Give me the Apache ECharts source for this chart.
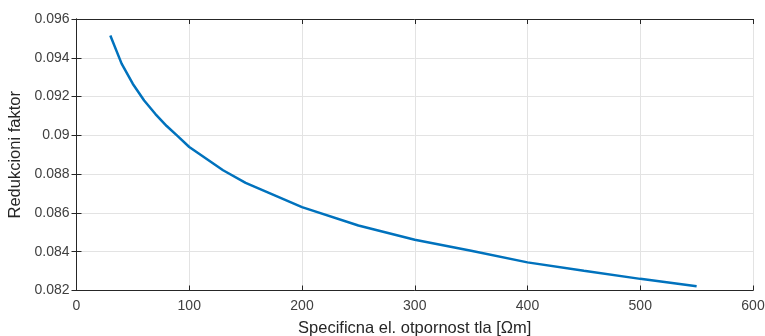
<!DOCTYPE html>
<html><head><meta charset="utf-8">
<script src="https://cdn.jsdelivr.net/npm/echarts@6/dist/echarts.min.js"></script>
<style>html,body{margin:0;padding:0;background:#fff}#c{width:765px;height:336px}</style>
</head><body><div id="c"></div>
<script>
const xValues = [30, 40, 50, 60, 70, 80, 90, 100, 130, 150, 200, 250, 300, 350, 400, 450, 500, 550];
const yValues = [0.09515, 0.09370, 0.09265, 0.09180, 0.09110, 0.09048, 0.08995, 0.08940, 0.08820, 0.08755, 0.08630, 0.08535, 0.08462, 0.08405, 0.08345, 0.08302, 0.08260, 0.08222];
const xLabel = 'Specificna el. otpornost tla [\u03A9m]';
const yLabel = 'Redukcioni faktor';

const chart = echarts.init(document.getElementById('c'), null, {renderer: 'canvas'});
const axisCol = '#262626';
const font = 'Helvetica, "Liberation Sans", Arial, sans-serif';
const base = {
  axisLine: {show: true, lineStyle: {color: axisCol, width: 1}},
  axisTick: {show: true, inside: true, length: 5, lineStyle: {color: axisCol}},
  splitLine: {show: false}
};
chart.setOption({
  animation: false,
  grid: {left: 76.5, right: 12, top: 19, bottom: 45.5, containLabel: false, outerBoundsMode: 'none'},
  xAxis: [
    Object.assign({}, base, {
      type: 'value', min: 0, max: 600, interval: 100,
      name: xLabel, nameLocation: 'middle', nameGap: 29,
      nameTextStyle: {color: axisCol, fontSize: 16.5, fontFamily: font},
      axisLabel: {color: '#404040', fontSize: 14, fontFamily: font, margin: 9},
      splitLine: {show: true, lineStyle: {color: '#e3e3e3', width: 1}}
    }),
    Object.assign({}, base, {
      type: 'value', min: 0, max: 600, interval: 100, position: 'top',
      axisLabel: {show: false}
    })
  ],
  yAxis: [
    Object.assign({}, base, {
      type: 'value', min: 0.082, max: 0.096, interval: 0.002,
      name: yLabel, nameLocation: 'middle', nameGap: 52,
      nameTextStyle: {color: axisCol, fontSize: 16.5, fontFamily: font},
      axisLabel: {color: '#404040', fontSize: 14, fontFamily: font, margin: 7,
        formatter: v => String(parseFloat(v.toFixed(3)))},
      splitLine: {show: true, lineStyle: {color: '#e3e3e3', width: 1}}
    }),
    Object.assign({}, base, {
      type: 'value', min: 0.082, max: 0.096, interval: 0.002, position: 'right',
      axisLabel: {show: false}
    })
  ],
  series: [{
    type: 'line',
    data: xValues.map((x, i) => [x, yValues[i]]),
    showSymbol: false,
    symbol: 'none',
    lineStyle: {color: '#0072BD', width: 2.5},
    smooth: false
  }]
});
</script></body></html>
